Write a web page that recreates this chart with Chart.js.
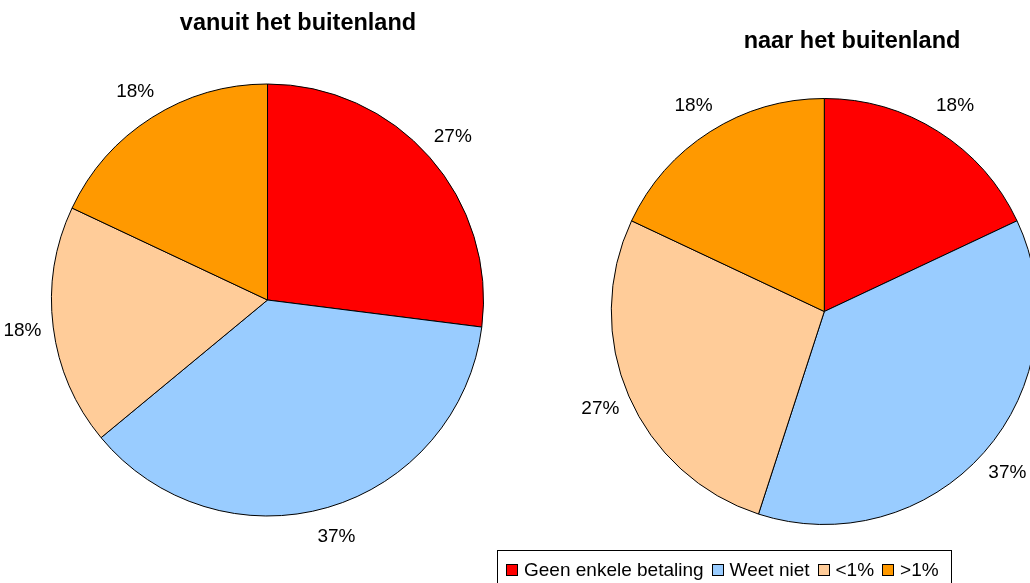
<!DOCTYPE html>
<html lang="nl">
    <head>
        <meta charset="UTF-8">
        <title>Betalingen buitenland</title>
        <script src="https://cdn.jsdelivr.net/npm/chart.js"></script>
        <style>
            html, body { margin: 0; padding: 0; background: #fff; }
            body { width: 1030px; height: 583px; position: relative; overflow: hidden; font-family: "Liberation Sans", Arial, sans-serif; }
            canvas { position: absolute; left: 0; top: 0; }
            .title { position: absolute; width: 300px; text-align: center; font-weight: bold; font-size: 23.5px; line-height: 1; color: #000; }
            .legend { position: absolute; left: 497px; top: 550px; width: 455px; height: 45px; box-sizing: border-box; border: 1px solid #000; display: flex; align-items: flex-start; padding: 9px 0 0 8px; font-size: 19px; line-height: 1; }
            .legend span.item { display: flex; align-items: center; margin-right: 8px; }
            .legend i { display: inline-block; width: 10px; height: 10px; border: 1px solid #000; margin-right: 6px; }
        </style>
    </head>
    <body>
        <canvas id="left" width="1030" height="583"></canvas>
        <canvas id="right" width="1030" height="583"></canvas>
        <div class="title" style="left:148px; top:11px;">vanuit het buitenland</div>
        <div class="title" style="left:702px; top:29px;">naar het buitenland</div>
        <div class="legend" id="legend"></div>

        <script>
            // data
            const categories = ['Geen enkele betaling', 'Weet niet', '<1%', '>1%'];
            const vanuitValues = [27, 37, 18, 18];
            const naarValues = [18, 37, 27, 18];
            const sliceColors = ['#FF0000', '#99CCFF', '#FFCC99', '#FF9900'];

            // percentage labels just outside each slice
            const pctLabels = {
                id: 'pctLabels',
                afterDatasetsDraw(chart, args, opts) {
                    const ctx = chart.ctx;
                    const values = chart.data.datasets[0].data;
                    ctx.save();
                    ctx.font = opts.font;
                    ctx.fillStyle = '#000';
                    ctx.textAlign = 'center';
                    ctx.textBaseline = 'middle';
                    chart.getDatasetMeta(0).data.forEach((arc, i) => {
                        const p = arc.getProps(['x', 'y', 'startAngle', 'endAngle', 'outerRadius'], true);
                        const mid = (p.startAngle + p.endAngle) / 2;
                        const d = p.outerRadius + opts.offset;
                        ctx.fillText(values[i] + '%', p.x + Math.cos(mid) * d, p.y + Math.sin(mid) * d);
                    });
                    ctx.restore();
                }
            };

            function makePie(id, values, radius, padding) {
                return new Chart(document.getElementById(id), {
                    type: 'pie',
                    data: {
                        labels: categories,
                        datasets: [{
                            data: values,
                            backgroundColor: sliceColors,
                            borderColor: '#000',
                            borderWidth: 1,
                            radius: radius
                        }]
                    },
                    options: {
                        responsive: false,
                        animation: false,
                        events: [],
                        layout: { padding: padding },
                        plugins: {
                            legend: { display: false },
                            tooltip: { enabled: false },
                            pctLabels: { font: '19px "Liberation Sans", Arial, sans-serif', offset: 31 }
                        }
                    },
                    plugins: [pctLabels]
                });
            }

            makePie('left', vanuitValues, 216, { left: 0, right: 495, top: 17, bottom: 0 });
            makePie('right', naarValues, 213, { left: 618.6, right: 0, top: 40, bottom: 0 });

            // legend
            const legend = document.getElementById('legend');
            categories.forEach((name, i) => {
                const item = document.createElement('span');
                item.className = 'item';
                const box = document.createElement('i');
                box.style.background = sliceColors[i];
                item.appendChild(box);
                item.appendChild(document.createTextNode(name));
                legend.appendChild(item);
            });
        </script>
    </body>
</html>
